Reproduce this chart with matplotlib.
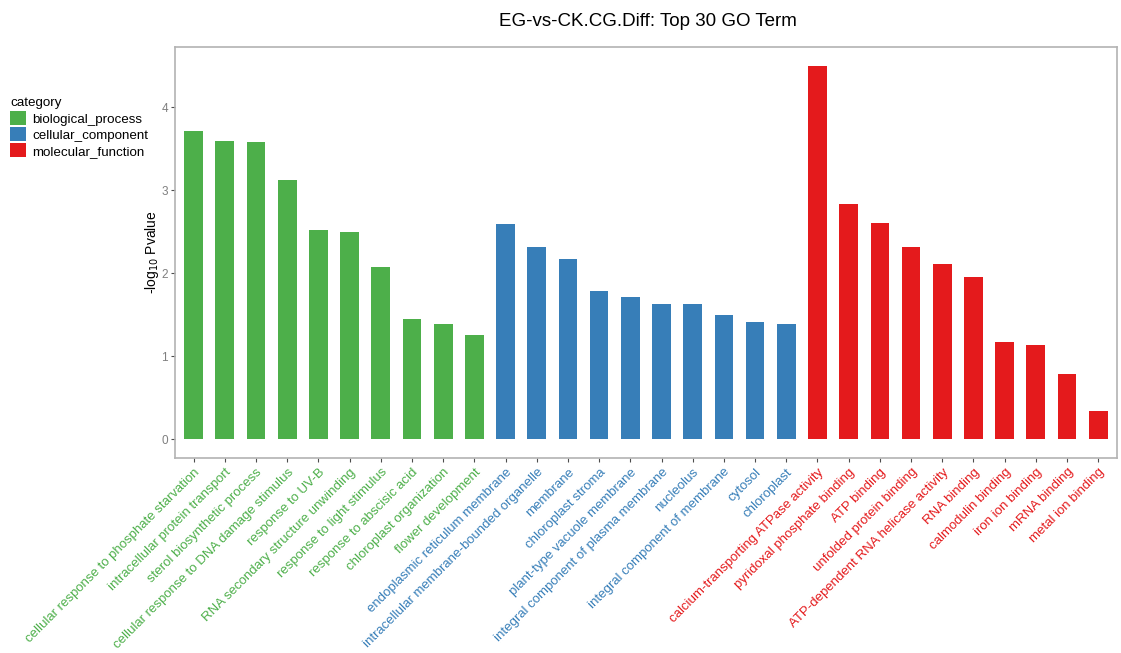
import matplotlib
matplotlib.use('Agg')
import matplotlib.pyplot as plt
from matplotlib.patches import Patch

plt.rcParams['font.family'] = ['Liberation Sans', 'DejaVu Sans']

terms = [
    'cellular response to phosphate starvation',
    'intracellular protein transport',
    'sterol biosynthetic process',
    'cellular response to DNA damage stimulus',
    'response to UV-B',
    'RNA secondary structure unwinding',
    'response to light stimulus',
    'response to abscisic acid',
    'chloroplast organization',
    'flower development',
    'endoplasmic reticulum membrane',
    'intracellular membrane-bounded organelle',
    'membrane',
    'chloroplast stroma',
    'plant-type vacuole membrane',
    'integral component of plasma membrane',
    'nucleolus',
    'integral component of membrane',
    'cytosol',
    'chloroplast',
    'calcium-transporting ATPase activity',
    'pyridoxal phosphate binding',
    'ATP binding',
    'unfolded protein binding',
    'ATP-dependent RNA helicase activity',
    'RNA binding',
    'calmodulin binding',
    'iron ion binding',
    'mRNA binding',
    'metal ion binding',
]
neg_log10_p = [
    3.71, 3.59, 3.58, 3.12, 2.52, 2.49, 2.07, 1.45, 1.39, 1.26,
    2.59, 2.31, 2.17, 1.79, 1.71, 1.63, 1.63, 1.50, 1.41, 1.39,
    4.50, 2.83, 2.61, 2.32, 2.11, 1.95, 1.17, 1.13, 0.79, 0.34,
]
category = (['biological_process'] * 10 + ['cellular_component'] * 10
            + ['molecular_function'] * 10)
cat_colors = {
    'biological_process': '#4DAF4A',
    'cellular_component': '#377EB8',
    'molecular_function': '#E41A1C',
}

fig = plt.figure(figsize=(11.21, 6.53), dpi=100)
ax = fig.add_axes([0.156, 0.299, 0.8404, 0.629])

x = list(range(len(terms)))
cols = [cat_colors[c] for c in category]
ax.bar(x, neg_log10_p, width=0.6, color=cols)

ax.set_xlim(-0.6, len(terms) - 0.4)
ax.set_ylim(-0.225, 4.725)
ax.set_yticks([0, 1, 2, 3, 4])
ax.set_xticks(x)
ax.set_xticklabels(terms, rotation=45, ha='right', va='top',
                   rotation_mode='anchor', fontsize=9.5)
for lab, c in zip(ax.get_xticklabels(), cols):
    lab.set_color(c)

for s in ax.spines.values():
    s.set_color('#B3B3B3')
    s.set_linewidth(1.2)
ax.tick_params(axis='both', color='#4D4D4D', length=3, width=0.8)
ax.tick_params(axis='y', labelcolor='#7F7F7F', labelsize=8.5, pad=2)
ax.tick_params(axis='x', pad=3)

ax.set_ylabel('-log$_{10}$ Pvalue', fontsize=10, labelpad=0)
fig.text(0.578, 0.967, 'EG-vs-CK.CG.Diff: Top 30 GO Term',
         ha='center', va='center', fontsize=13.5)

handles = [Patch(facecolor=v, edgecolor='none', label=k)
           for k, v in cat_colors.items()]
fig.legend(handles=handles, title='category', loc='upper left',
           bbox_to_anchor=(0.001, 0.865), frameon=False, fontsize=9.6,
           title_fontsize=9.6, handlelength=1.15, handleheight=1.25,
           handletextpad=0.5, labelspacing=0.12, alignment='left',
           borderaxespad=0.3)

fig.savefig('out.png', dpi=100)
